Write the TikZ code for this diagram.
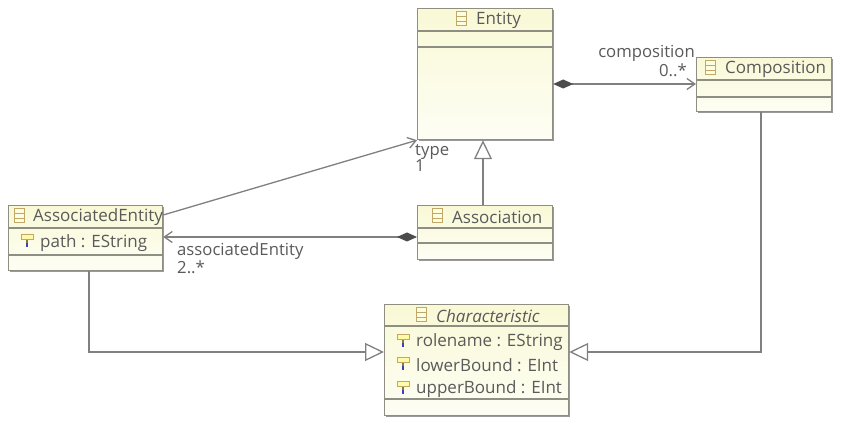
\documentclass[tikz,border=0pt]{standalone}
\usepackage{fontspec}
\setmainfont{Open Sans}
\usetikzlibrary{arrows.meta,shadows}
\definecolor{ink}{HTML}{5A5A5A}
\definecolor{edge}{HTML}{8E8E82}
\definecolor{wire}{HTML}{808080}
\definecolor{iconc}{HTML}{C2A866}
\definecolor{cream}{HTML}{F9F9D6}
\tikzset{
  umlbox/.style={draw=edge,line width=1.2pt,anchor=north west,inner sep=0pt,
    top color=cream,bottom color=cream!25!white,
    drop shadow={shadow xshift=1.5pt,shadow yshift=-1.5pt,fill=black!40,opacity=1}},
  sepline/.style={draw=edge,line width=1.1pt},
  txt/.style={text=ink,font=\fontsize{17}{18}\selectfont,inner sep=0pt,anchor=west},
  lab/.style={text=ink,font=\fontsize{16.7}{17}\selectfont,inner sep=0pt},
  wireline/.style={draw=wire,line width=1.3pt},
  inherit/.style={wireline,-{Triangle[open,fill=white,length=19pt,width=18pt]}},
  assoc/.style={wireline,-{Straight Barb[length=8pt,width=11pt]}},
  compos/.style={wireline,{Diamond[fill=black!70,color=black!70,length=20pt,width=9pt]}-{Straight Barb[length=8pt,width=11pt]}},
}
\newcommand{\classicon}[2]{%
  \draw[draw=iconc,fill=yellow!12!white,line width=1pt] (#1-5,#2-7) rectangle (#1+5,#2+7);
  \draw[draw=iconc,line width=1pt] (#1-5,#2-2.5) -- (#1+5,#2-2.5) (#1-5,#2+2.5) -- (#1+5,#2+2.5);}
\newcommand{\attricon}[2]{%
  \draw[draw=iconc,fill=yellow!35!white,line width=1pt] (#1-6,#2-6) rectangle (#1+6,#2-1);
  \draw[draw=iconc!70!black,line width=1.2pt] (#1,#2-1) -- (#1,#2+2);
  \draw[draw=blue!50!gray,line width=1.3pt] (#1,#2+2) -- (#1,#2+6);}
\begin{document}
\begin{tikzpicture}[x=1pt,y=-1pt]
\useasboundingbox[fill=white] (0,0) rectangle (844,430);
% boxes
\node[umlbox,minimum width=135pt,minimum height=131pt] (entity) at (417,8) {};
\node[umlbox,minimum width=135pt,minimum height=54pt] (composition) at (696,57) {};
\node[umlbox,minimum width=135pt,minimum height=54pt] (association) at (417,205) {};
\node[umlbox,minimum width=154pt,minimum height=65pt] (associated) at (8,205) {};
\node[umlbox,minimum width=184pt,minimum height=111pt] (characteristic) at (384,304) {};
% compartments
\draw[sepline] (entity.west |- 0,31) -- (entity.east |- 0,31) (entity.west |- 0,47) -- (entity.east |- 0,47);
\draw[sepline] (composition.west |- 0,80) -- (composition.east |- 0,80) (composition.west |- 0,97) -- (composition.east |- 0,97);
\draw[sepline] (association.west |- 0,228) -- (association.east |- 0,228) (association.west |- 0,243) -- (association.east |- 0,243);
\draw[sepline] (associated.west |- 0,228) -- (associated.east |- 0,228) (associated.west |- 0,255) -- (associated.east |- 0,255);
\draw[sepline] (characteristic.west |- 0,326) -- (characteristic.east |- 0,326) (characteristic.west |- 0,399) -- (characteristic.east |- 0,399);
% icons
\classicon{461}{19}
\classicon{710}{68}
\classicon{437}{216}
\classicon{19}{216}
\classicon{421}{315}
\attricon{27}{241}
\attricon{403}{341}
\attricon{403}{364}
\attricon{403}{388}
% titles
\node[txt] (tentity) at (476,20) {Entity};
\node[txt] (tcomposition) at (725,69) {Composition};
\node[txt] (tassociation) at (452,217) {Association};
\node[txt] (tassociated) at (33,217) {AssociatedEntity};
\node[txt] (tcharacteristic) at (436,316) {\itshape Characteristic};
% attributes
\node[txt] (apath) at (40,243) {path : EString};
\node[txt] (arole) at (416,342) {rolename : EString};
\node[txt] (alower) at (416,365) {lowerBound : EInt};
\node[txt] (aupper) at (416,389) {upperBound : EInt};
% connector anchors
\coordinate (ent-type) at (entity.south west);
\coordinate (ae-out) at (associated.east |- 0,215);
\coordinate (ae-in) at (associated.east |- 0,237);
\coordinate (as-out) at (association.west |- 0,237);
\coordinate (ent-c) at (entity.east |- 0,84);
\coordinate (co-c) at (composition.west |- 0,84);
\coordinate (as-up) at (association.north -| 483,0);
\coordinate (ent-up) at (entity.south -| 483,0);
\coordinate (co-d) at (composition.south -| 761,0);
\coordinate (ch-r) at (characteristic.east |- 0,352);
\coordinate (ch-l) at (characteristic.west |- 0,352);
\coordinate (ae-d) at (associated.south -| 89,0);
% connectors
\draw[assoc] (ae-out) -- (ent-type);
\draw[compos] (as-out) -- (ae-in);
\draw[compos] (ent-c) -- (co-c);
\draw[inherit] (as-up) -- (ent-up);
\draw[inherit] (co-d) |- (ch-r);
\draw[inherit] (ae-d) |- (ch-l);
% labels
\node[lab,anchor=west] (ltype) at (415,152) {type};
\node[lab,anchor=west] (lone) at (415,166) {1};
\node[lab,anchor=east] (lcomp) at (695,53) {composition};
\node[lab,anchor=east] (lzero) at (687,70) {0..*};
\node[lab,anchor=west] (lassoc) at (177,251) {associatedEntity};
\node[lab,anchor=west] (ltwo) at (177,267) {2..*};
\end{tikzpicture}
\end{document}
